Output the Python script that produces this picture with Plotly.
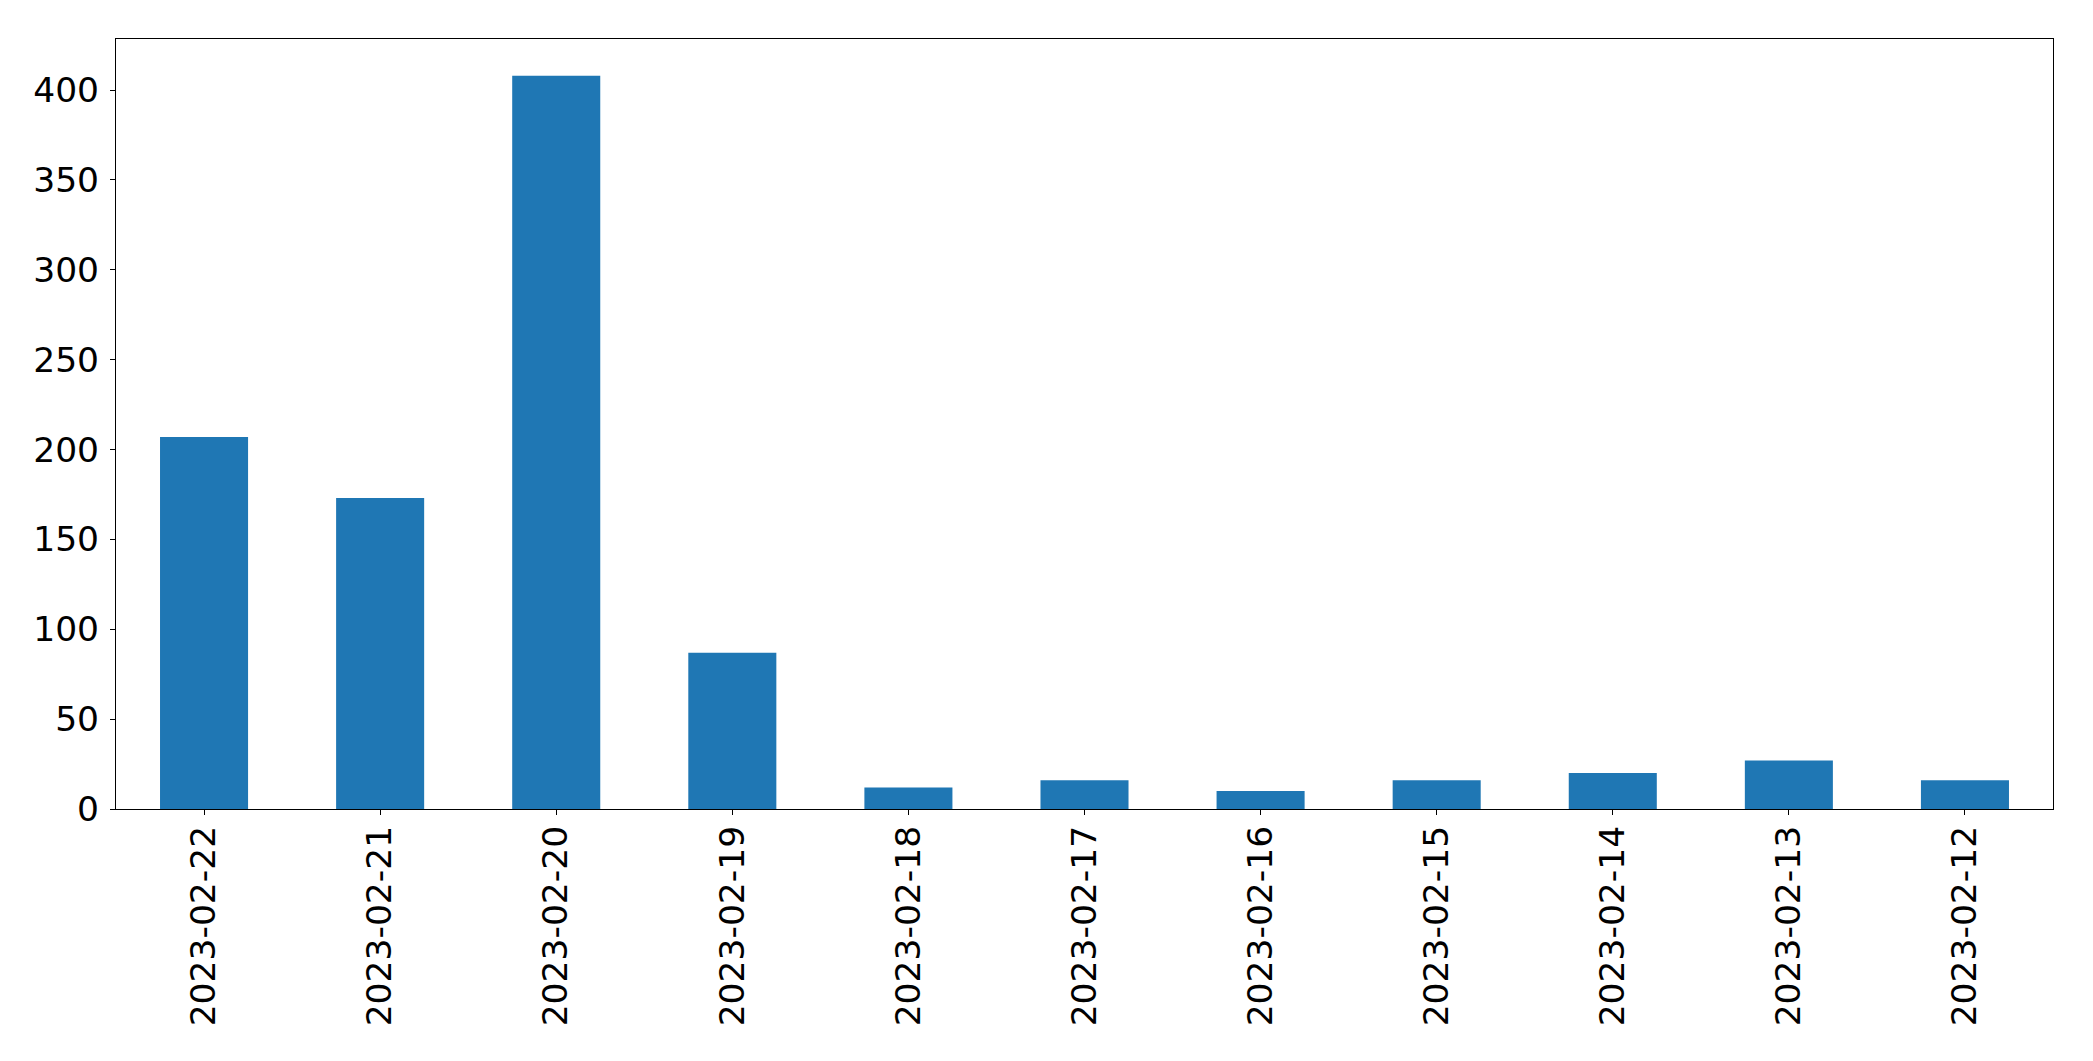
import plotly.graph_objects as go

dates = ["2023-02-22", "2023-02-21", "2023-02-20", "2023-02-19", "2023-02-18",
         "2023-02-17", "2023-02-16", "2023-02-15", "2023-02-14", "2023-02-13",
         "2023-02-12"]
counts = [207, 173, 408, 87, 12, 16, 10, 16, 20, 27, 16]
y_ticks = [0, 50, 100, 150, 200, 250, 300, 350, 400]

FONT = dict(family="DejaVu Sans", size=34.5, color="black")

fig = go.Figure(go.Bar(x=dates, y=counts, marker=dict(color="#1f77b4", line=dict(width=0))))

# page body has an 8px default margin; compensate so the plot area sits at
# x 116..2053, y 39..809 in the window
fig.update_layout(
    width=2085, height=1053,
    margin=dict(l=108, r=40, t=31, b=252, pad=0),
    paper_bgcolor="white", plot_bgcolor="white",
    bargap=0.5, showlegend=False, font=FONT,
)
fig.update_xaxes(
    type="category", range=[-0.5, len(dates) - 0.5],
    showline=True, linecolor="black", linewidth=1.1, mirror=True,
    ticks="outside", ticklen=5, tickwidth=1.1, tickcolor="black",
    tickangle=-90, showgrid=False, tickfont=FONT, ticklabelstandoff=-3,
)
fig.update_yaxes(
    range=[0, max(counts) * 1.05], tickvals=y_ticks,
    showline=True, linecolor="black", linewidth=1.1, mirror=True,
    ticks="outside", ticklen=5, tickwidth=1.1, tickcolor="black",
    showgrid=False, zeroline=False, tickfont=FONT, ticklabelstandoff=4,
)

fig.write_html("out.html")
